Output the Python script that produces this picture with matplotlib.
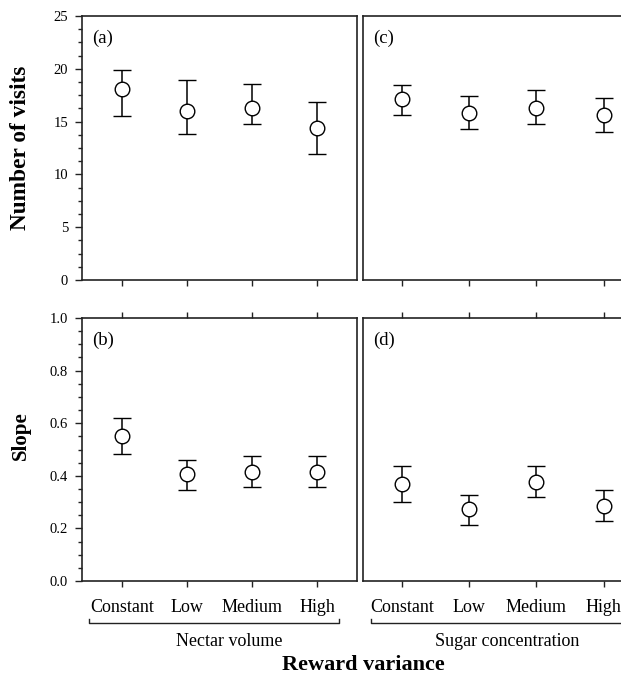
"""Reward variance panels: visits and slope by nectar volume / sugar concentration."""

import matplotlib

matplotlib.use("Agg")
import matplotlib.pyplot as plt
from matplotlib.lines import Line2D
from matplotlib.ticker import MultipleLocator

# Data
categories = ["Constant", "Low", "Medium", "High"]

visits_nectar = [18.1, 16.0, 16.3, 14.4]
visits_nectar_lo = [15.5, 13.8, 14.8, 11.9]
visits_nectar_hi = [19.9, 18.9, 18.6, 16.9]

visits_sugar = [17.15, 15.8, 16.3, 15.65]
visits_sugar_lo = [15.65, 14.3, 14.75, 14.05]
visits_sugar_hi = [18.5, 17.4, 18.0, 17.25]

slope_nectar = [0.551, 0.406, 0.416, 0.416]
slope_nectar_lo = [0.482, 0.347, 0.357, 0.357]
slope_nectar_hi = [0.620, 0.461, 0.477, 0.477]

slope_sugar = [0.368, 0.273, 0.378, 0.285]
slope_sugar_lo = [0.299, 0.213, 0.318, 0.229]
slope_sugar_hi = [0.438, 0.328, 0.438, 0.347]

plt.rcParams["font.family"] = ["Liberation Serif", "DejaVu Serif"]

W, H = 621, 677
fig = plt.figure(figsize=(W / 100, H / 100), dpi=100)
INK = "#222222"


def px_axes(x0, y0, w, h):
    """Add axes from pixel box (top-left origin)."""
    return fig.add_axes([x0 / W, 1 - (y0 + h) / H, w / W, h / H])


def draw_panel(ax, means, lo, hi, label, left=True, top_ticks=False, show_labels=False):
    x = list(range(1, len(means) + 1))
    err = [[m - l for m, l in zip(means, lo)], [h - m for m, h in zip(means, hi)]]
    ax.errorbar(x, means, yerr=err, fmt="o", color="black", ecolor="black",
                elinewidth=1.1, capsize=6.5, capthick=1.1, markersize=10.5,
                markerfacecolor="white", markeredgecolor="black", markeredgewidth=1.0,
                zorder=3)
    for s in ax.spines.values():
        s.set_color(INK)
        s.set_linewidth(1.2)
    ax.set_xticks(x)
    ax.tick_params(axis="x", direction="out", length=4, width=1.0, color=INK,
                   top=top_ticks, bottom=True, labelsize=13, pad=9)
    if show_labels:
        ax.set_xticklabels(categories)
    else:
        ax.set_xticklabels([])
    if left:
        ax.tick_params(axis="y", which="major", direction="out", length=5, width=1.0,
                       color=INK, labelsize=10.5, pad=5)
        ax.tick_params(axis="y", which="minor", direction="out", length=3, width=1.0,
                       color=INK)
    else:
        ax.tick_params(axis="y", which="both", left=False, labelleft=False)
    ax.text(10 / (ax.bbox.width), 1 - 22 / ax.bbox.height, label, transform=ax.transAxes,
            fontsize=13.5, va="center", ha="left")


# Top row: number of visits
ax_a = px_axes(82, 16, 275, 264)
ax_c = px_axes(363, 16, 281, 264)
# Bottom row: slope
ax_b = px_axes(82, 318, 275, 263)
ax_d = px_axes(363, 318, 281, 263)

draw_panel(ax_a, visits_nectar, visits_nectar_lo, visits_nectar_hi, "(a)")
draw_panel(ax_c, visits_sugar, visits_sugar_lo, visits_sugar_hi, "(c)", left=False)
draw_panel(ax_b, slope_nectar, slope_nectar_lo, slope_nectar_hi, "(b)",
           top_ticks=True, show_labels=True)
draw_panel(ax_d, slope_sugar, slope_sugar_lo, slope_sugar_hi, "(d)", left=False,
           top_ticks=True, show_labels=True)

for ax in (ax_a, ax_b):
    ax.set_xlim(0.39, 4.61)
for ax in (ax_c, ax_d):
    ax.set_xlim(0.42, 4.6)
for ax in (ax_a, ax_c):
    ax.set_ylim(0, 25)
    ax.yaxis.set_major_locator(MultipleLocator(5))
    ax.yaxis.set_minor_locator(MultipleLocator(1.25))
for ax in (ax_b, ax_d):
    ax.set_ylim(0, 1.0)
    ax.yaxis.set_major_locator(MultipleLocator(0.2))
    ax.yaxis.set_minor_locator(MultipleLocator(0.05))
    ax.yaxis.set_major_formatter(plt.FuncFormatter(lambda v, p: f"{v:.1f}"))

# Axis titles
fig.text(21 / W, 1 - 148 / H, "Number of visits", rotation=90, ha="center", va="center",
         fontsize=16.8, fontweight="bold")
fig.text(21 / W, 1 - 436 / H, "Slope", rotation=90, ha="center", va="center",
         fontsize=15, fontweight="bold")
fig.text(363 / W, 1 - 665 / H, "Reward variance", ha="center", va="center",
         fontsize=16, fontweight="bold")


# Group brackets under category labels
def bracket(x0, x1, y):
    hook = 4
    xs = [x0 / W, x0 / W, x1 / W, x1 / W]
    ys = [1 - (y - hook) / H, 1 - y / H, 1 - y / H, 1 - (y - hook) / H]
    fig.add_artist(Line2D(xs, ys, color=INK, linewidth=1.0))


bracket(89, 339, 623)
bracket(371, 660, 623)
fig.text(229 / W, 1 - 641 / H, "Nectar volume", ha="center", va="center", fontsize=13)
fig.text(507 / W, 1 - 641 / H, "Sugar concentration", ha="center", va="center", fontsize=13)

fig.savefig("out.png", dpi=100)
plt.close(fig)
